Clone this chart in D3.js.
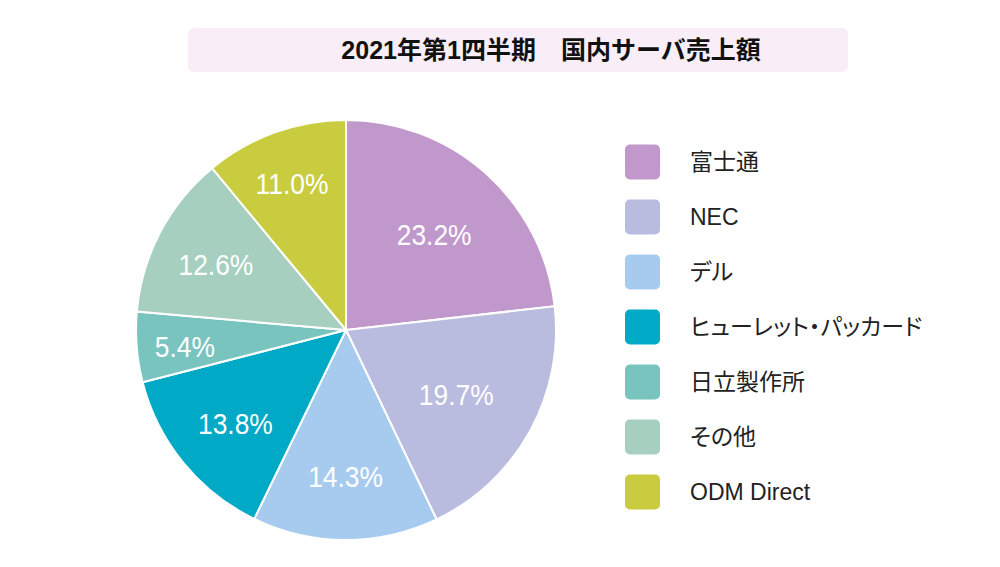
<!DOCTYPE html>
<html><head><meta charset="utf-8">
<script src="https://cdn.jsdelivr.net/npm/d3@7"></script>
<style>
body{margin:0;background:#fff;}
svg{display:block;}
</style></head>
<body>
<script>
const title = "2021年第1四半期\u3000国内サーバ売上額";
const categories = ["富士通","NEC","デル","ヒューレット・パッカード","日立製作所","その他","ODM Direct"];
const values = [23.2,19.7,14.3,13.8,5.4,12.6,11.0];
const colors = ["#c198cb","#b9bbdf","#a7cbef","#00a9c6","#79c4bf","#a6cfbf","#c9cc3f"];
const labelRadiusFactor = [0.63,0.6,0.68,0.68,0.77,0.7,0.76];

const W=1000,H=567;
const svg=d3.select("body").append("svg").attr("width",W).attr("height",H);
const font='"Liberation Sans","Noto Sans CJK JP",sans-serif';

// title
svg.append("rect").attr("x",188).attr("y",28).attr("width",660).attr("height",44)
  .attr("rx",6).attr("fill","#f9eef7");
svg.append("text").attr("x",551).attr("y",59).attr("text-anchor","middle")
  .attr("font-family",font).attr("font-size",25).attr("font-weight","bold")
  .attr("fill","#111").text(title);

// pie
const cx=346, cy=330, R=210;
const pie=d3.pie().sort(null).value(d=>d.v);
const data=categories.map((c,i)=>({c,v:values[i],color:colors[i],lf:labelRadiusFactor[i]}));
const arcs=pie(data);
const arc=d3.arc().innerRadius(0).outerRadius(R);
const g=svg.append("g").attr("transform",`translate(${cx},${cy})`);
g.selectAll("path").data(arcs).join("path").attr("d",arc)
  .attr("fill",d=>d.data.color).attr("stroke","#fff").attr("stroke-width",2);
g.selectAll("text").data(arcs).join("text")
  .attr("transform",d=>{const a=d3.arc().innerRadius(R*d.data.lf).outerRadius(R*d.data.lf);const c=a.centroid(d);return `translate(${c[0]},${c[1]+3}) scale(0.88,1)`;})
  .attr("text-anchor","middle").attr("dy","0.36em")
  .attr("font-family",font).attr("font-size",30)
  .attr("fill","#fff").text(d=>d.data.v.toFixed(1)+"%");

// legend
const lg=svg.append("g");
const y=d3.scalePoint().domain(categories).range([162,492]);
lg.selectAll("rect").data(data).join("rect")
  .attr("x",625).attr("y",d=>y(d.c)-17.5).attr("width",35).attr("height",35).attr("rx",5)
  .attr("fill",d=>d.color);
lg.selectAll("text").data(data).join("text")
  .attr("x",690).attr("y",d=>y(d.c)).attr("dy","0.36em")
  .attr("font-family",font).attr("font-size",23).attr("fill","#222")
  .style("font-feature-settings",'"palt"')
  .text(d=>d.c);
</script>
</body></html>
